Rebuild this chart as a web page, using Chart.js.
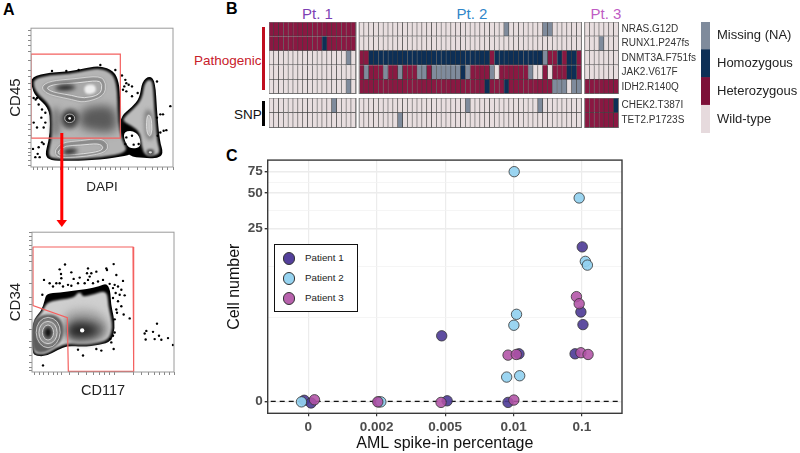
<!DOCTYPE html>
<html>
<head>
<meta charset="utf-8">
<script src="https://cdn.jsdelivr.net/npm/chart.js@4/dist/chart.umd.min.js"></script>
<style>
  html, body { margin: 0; padding: 0; background: #fff; }
  body { width: 800px; height: 453px; position: relative; overflow: hidden; font-family: "Liberation Sans", Arial, sans-serif; }
  .box { position: absolute; }
  .box canvas { display: block; }
  .txt { position: absolute; white-space: nowrap; line-height: 1; }
  .letter { font-weight: bold; font-size: 16px; color: #000; }
  .pt { font-size: 15px; transform: translateX(-50%); }
  .bar { position: absolute; }
  #legendC { position: absolute; left: 274px; top: 244px; width: 82px; height: 66px; border: 1px solid #111; background: #fff; box-sizing: content-box; }
  #legendC div { position: absolute; left: 30px; font-size: 9.8px; color: #222; line-height: 1; }
  #legendC i { position: absolute; left: 7.6px; width: 10.6px; height: 10.6px; border-radius: 50%; border: 0.8px solid #333; }
</style>
</head>
<body>
<div class="txt letter" style="left:3px;top:2px">A</div>
<div class="txt letter" style="left:226px;top:1px">B</div>
<div class="txt letter" style="left:226px;top:148px">C</div>

<div class="box" style="left:0;top:18px"><canvas id="flowTop" width="190" height="177"></canvas></div>
<div class="box" style="left:0;top:222px"><canvas id="flowLow" width="190" height="178"></canvas></div>
<svg class="box" style="left:50px;top:130px" width="24" height="100">
  <rect x="10.3" y="3" width="3" height="88" fill="#f00"></rect>
  <polygon points="6.5,90 17,90 11.8,97" fill="#f00"></polygon>
</svg>

<div class="txt pt" style="left:317.5px;top:6px;color:#7d3fb4">Pt. 1</div>
<div class="txt pt" style="left:472px;top:6px;color:#2f86c9">Pt. 2</div>
<div class="txt pt" style="left:606px;top:6px;color:#c05cc4">Pt. 3</div>
<div class="txt" style="left:194px;top:54px;font-size:13.5px;color:#c8202a">Pathogenic</div>
<div class="txt" style="left:234px;top:108px;font-size:13.5px;color:#111">SNP</div>
<div class="bar" style="left:262px;top:27px;width:3.4px;height:63px;background:#c00d1e"></div>
<div class="bar" style="left:262px;top:101px;width:3.4px;height:25px;background:#000"></div>

<div class="box" style="left:269px;top:22px"><canvas id="heatPath" width="440" height="72"></canvas></div>
<div class="box" style="left:269px;top:98px"><canvas id="heatSnp" width="440" height="30"></canvas></div>
<div class="box" style="left:701px;top:22px"><canvas id="heatKey" width="99" height="111"></canvas></div>

<div class="box" style="left:225px;top:150px"><canvas id="cells" width="405" height="303"></canvas></div>
<div id="legendC">
  <i style="top:7px;background:#54409c"></i><div style="top:8px">Patient 1</div>
  <i style="top:27px;background:#96d3f0"></i><div style="top:28px">Patient 2</div>
  <i style="top:47px;background:#b862ad"></i><div style="top:48px">Patient 3</div>
</div>

<script>
// Panel C values
const spikeLabels = ['0', '0.002', '0.005', '0.01', '0.1'];
const patient1 = [
  [-0.06, 0.02], [0.04, -0.03], [1.03, -0.01], [2.03, 0.01], [1.95, 2.44],
  [2.92, -0.02], [3.08, 1.45], [3.9, 1.45], [4.015, 3.25], [3.985, 4.39], [4.005, 17.4]
];
const patient2 = [
  [-0.1, -0.01], [1.06, -0.01], [3.01, 75], [3.044, 4.16], [3.005, 3.2],
  [3.09, 0.62], [2.9, 0.58], [3.96, 45.3], [4.05, 13], [4.08, 12.05]
];
const patient3 = [
  [0.09, 0.03], [1.015, -0.01], [1.94, -0.02], [3.005, 0.025], [2.92, 1.39],
  [3.04, 1.42], [3.92, 6.2], [3.96, 5.3], [3.985, 1.5], [4.09, 1.42]
];
const cellTicks = [0, 25, 50, 75];
const cellMinorTicks = [3.9, 11.7, 35.6, 61];

// Panel B values, W wild-type, H heterozygous, O homozygous, M missing
const pathogenicGenes = ['NRAS.G12D', 'RUNX1.P247fs', 'DNMT3A.F751fs', 'JAK2.V617F', 'IDH2.R140Q'];
const snpGenes = ['CHEK2.T387I', 'TET2.P1723S'];
const pt1Pathogenic = [
  'HHHHHHHHHH HHHHHHHH',
  'HHHHHHHHHH HOHHHHHH',
  'WWWWWWWWWW WWWWWWMW',
  'WWWWWWWWWW WWWWWWWW',
  'WWWWWWWWWW WWWWWWMW'
];
const pt2Pathogenic = [
  'WWWWWWWWWW WWWWWWWWWW WWWWWWWWWW MWWWWWWWMM WWWWWW',
  'WWWWWWWWWW WWWWWWWWWW WWWWWWWWWW WWWWWWWWWW WWWWWW',
  'HHOOOOOOOO OOOOOOOOOO OOOOOOOHOO OOOOOOOOMH HOHOOH',
  'HMHHHMHHMH HHMMHMMMMM MOMHHHHMWH HHHHHMWWHW HHHOOH',
  'HHHHHHHHHH HHHHHHHHHH HHHHHHOHHH OHHHHHHHHH MMMWMM'
];
const pt3Pathogenic = ['WWWWWWW', 'WWWMWWW', 'WWWWWWW', 'WWWWWWW', 'HHHHHHH'];
const pt1Snp = ['WWWWWWWWWW WWWMWWWW', 'WWWWWWWWWW WWWWWWWW'];
const pt2Snp = [
  'WWWWWWWWWW WWWWWWWWWW WWMWWWWWWW WWWWWWWMWW WWWWWW',
  'WWWWWWWWMW WWWWWWWWWW WWWWWWWWWW WWWWWWWWWW WWWWWW'
];
const pt3Snp = ['HHHHHHO', 'HHHHHHH'];
const keyLabels = ['Missing (NA)', 'Homozygous', 'Heterozygous', 'Wild-type'];

// Panel A values, in channel units
const topGate = [[92, 343], [360, 343], [360, 88], [92, 88], [92, 343]];
const lowGate = [[100, 380], [400, 380], [402, 2], [206, 2], [203, 165], [100, 202], [100, 380]];

const topOuter = [[93,275],[150,288],[205,290],[260,302],[300,308],[340,292],[356,260],[360,200],[360,140],[375,80],[395,42],[380,34],[300,22],[200,18],[150,20],[133,35],[145,80],[150,130],[145,180],[105,215],[93,245]];
const topInner = [[100,268],[150,280],[205,282],[260,294],[300,300],[335,285],[348,255],[352,200],[352,140],[365,80],[385,45],[300,28],[200,24],[155,26],[143,38],[153,80],[158,130],[152,185],[112,222],[100,245]];
const topCentre = [[240,180],[330,190],[350,160],[348,100],[250,115],[235,130]];
const topStrip = [[155,185],[180,180],[180,100],[155,80]];
const topNode = [[208,178],[232,170],[238,148],[228,122],[208,115],[188,122],[180,148],[188,170]];
const topNodeInner = [[208,162],[220,158],[224,148],[220,138],[208,134],[196,138],[192,148],[196,158]];
const topNodeSpot = [[204,152],[212,152],[212,144],[204,144]];
const topLobeA = [[122,245],[150,262],[220,268],[300,278],[318,255],[312,215],[250,195],[215,205],[165,215],[135,225]];
const topLobeB = [[138,242],[165,252],[230,255],[295,264],[306,250],[300,220],[250,208],[215,218],[170,225],[148,232]];
const topLobeCore = [[160,242],[195,252],[235,244],[205,232],[170,234]];
const topLobePatch = [[255,250],[285,252],[288,225],[260,220],[250,232]];
const topBaseA = [[162,50],[185,75],[240,80],[300,88],[325,70],[318,45],[260,32],[190,28],[168,32]];
const topBaseB = [[172,48],[195,65],[240,66],[295,72],[310,60],[300,48],[250,40],[195,36],[175,38]];
const topBaseCore = [[185,48],[210,58],[240,50],[210,38],[190,40]];
const topRightOuter = [[362,155],[395,182],[418,210],[425,260],[448,278],[465,260],[470,170],[478,80],[490,40],[470,25],[430,28],[385,32],[370,70],[358,115]];
const topHole = [[367,105],[395,112],[418,95],[422,60],[395,55],[378,65]];
const topRightInner = [[372,152],[398,175],[425,205],[432,255],[448,268],[458,255],[462,170],[470,80],[480,45],[465,34],[435,34],[424,60],[420,105],[395,125],[368,138]];
const topRightMid = [[432,170],[448,178],[460,150],[462,90],[448,78],[434,95],[432,135]];
const topRightCore = [[440,160],[452,155],[456,110],[448,90],[438,110]];
const topRightSpot = [[438,55],[462,55],[462,34],[438,34]];
const topRightSpotIn = [[445,48],[455,48],[455,41],[445,41]];

const lowOuter = [[97,155],[125,185],[135,218],[140,238],[180,242],[228,248],[260,252],[300,260],[320,270],[332,250],[334,205],[342,170],[346,135],[336,93],[300,82],[250,76],[205,80],[175,68],[140,48],[110,48],[97,58]];
const lowInner = [[100,155],[128,180],[140,212],[180,220],[225,226],[232,240],[245,242],[248,228],[280,235],[322,250],[326,200],[334,165],[338,135],[328,100],[300,90],[250,84],[205,88],[172,75],[140,54],[112,54],[100,62]];
const lowMid = [[190,178],[240,195],[300,185],[325,150],[320,102],[250,90],[200,95],[190,140]];
const lowDark = [[205,155],[250,165],[305,150],[320,125],[295,100],[240,95],[205,100]];
const lowCore = [[205,140],[250,148],[290,135],[295,120],[250,105],[205,110]];
const lowSpot = [[241,133],[254,133],[254,120],[241,120]];
const lowBlob = [[97,150],[125,175],[170,175],[192,145],[190,100],[165,75],[130,55],[97,65]];
const lowRingA = [[145,170],[175,155],[184,120],[172,85],[145,70],[118,85],[107,120],[117,155]];
const lowRingB = [[145,157],[167,145],[174,120],[167,95],[145,83],[123,95],[116,120],[123,145]];
const lowRingC = [[145,145],[158,137],[163,120],[158,103],[145,95],[132,103],[127,120],[132,137]];
const lowRingCore = [[145,138],[157,120],[145,102],[133,120]];

const topDots = [[155,292],[198,292],[235,295],[300,310],[345,295],[365,278],[375,265],[378,255],[385,250],[395,245],[372,245],[368,235],[378,230],[395,215],[412,225],[470,260],[480,160],[488,160],[510,185],[470,150],[490,110],[498,112],[480,105],[472,95],[110,210],[115,190],[125,175],[135,165],[123,150],[100,135],[110,120],[135,135],[130,120],[125,75],[115,60],[130,70],[112,40],[118,30],[105,30],[98,55],[100,210],[106,205],[378,90],[395,95],[375,70],[400,68],[415,70]];
const lowDots = [[196,327],[180,312],[184,298],[215,303],[222,283],[240,287],[265,315],[262,300],[270,290],[275,300],[290,305],[320,315],[322,310],[342,328],[350,295],[370,277],[133,280],[150,270],[160,260],[170,270],[185,285],[180,270],[190,260],[205,265],[215,262],[235,270],[255,270],[265,280],[280,270],[295,275],[310,280],[330,268],[345,265],[355,260],[365,250],[375,233],[360,235],[355,215],[365,200],[372,175],[390,163],[350,190],[345,160],[335,90],[342,70],[250,50],[235,68],[290,70],[305,65],[130,20],[90,55],[137,-7],[472,147],[440,125],[435,117],[460,122],[478,110],[505,103],[438,99],[465,100],[485,98],[520,82],[128,235],[340,255],[348,240],[340,225],[352,180],[345,120],[340,110],[332,100]];

const topTicksX = [100,112,125,140,155,180,205,225,245,265,285,300,315,330,345,360,385,410,435,455,470,485,500,518];
const topTicksY = [5,20,35,45,55,75,95,115,130,157,190,215,235,255,275,292,325,350,370,385,400,415];
const lowTicksX = [105,118,130,145,160,172,184,210,235,260,280,300,315,330,345,400,425,445,465,480,495,510,523];
const lowTicksY = [5,15,30,50,75,94,130,160,185,205,225,270,310,335,355,372,385,400,412,425];

Chart.defaults.font.family = '"Liberation Sans", Arial, sans-serif';
Chart.defaults.animation = false;
Chart.defaults.responsive = false;
Chart.defaults.plugins.legend.display = false;
Chart.defaults.plugins.tooltip.enabled = false;

const toXY = pts => pts.map(p => ({ x: p[0], y: p[1] }));

// fills closed contour datasets before the normal datasets get drawn
const contourPlugin = {
  id: 'contours',
  beforeDatasetsDraw(chart) {
    const ctx = chart.ctx;
    chart.data.datasets.forEach((ds, i) => {
      if (!ds.polyFill && !ds.polyLine) return;
      const pts = chart.getDatasetMeta(i).data;
      ctx.save();
      ctx.beginPath();
      ctx.rect(chart.chartArea.left, chart.chartArea.top, chart.chartArea.width, chart.chartArea.height);
      ctx.clip();
      ctx.beginPath();
      const n = pts.length;
      ctx.moveTo((pts[n - 1].x + pts[0].x) / 2, (pts[n - 1].y + pts[0].y) / 2);
      pts.forEach((p, k) => {
        const q = pts[(k + 1) % n];
        ctx.quadraticCurveTo(p.x, p.y, (p.x + q.x) / 2, (p.y + q.y) / 2);
      });
      ctx.closePath();
      if (ds.polyFill) {
        ctx.filter = ds.blur ? `blur(${ds.blur}px)` : 'none';
        ctx.fillStyle = ds.polyFill;
        ctx.fill();
        ctx.filter = 'none';
      }
      if (ds.polyLine) {
        ctx.strokeStyle = ds.polyLine;
        ctx.lineWidth = 0.8;
        ctx.stroke();
      }
      ctx.restore();
    });
  }
};

const framePlugin = {
  id: 'frame',
  afterDraw(chart, args, opts) {
    const a = chart.chartArea, ctx = chart.ctx;
    ctx.save();
    ctx.strokeStyle = opts.color;
    ctx.lineWidth = opts.width;
    ctx.strokeRect(a.left, a.top, a.width, a.height);
    ctx.restore();
  }
};

function layer(pts, fill, blur, line) {
  return { data: toXY(pts), polyFill: fill, blur: blur, polyLine: line, pointRadius: 0, showLine: false };
}

function flowChart(id, cfg) {
  new Chart(document.getElementById(id), {
    type: 'scatter',
    plugins: [contourPlugin, framePlugin],
    data: {
      datasets: [
        { data: toXY(cfg.gate), showLine: true, borderColor: '#f4605f', borderWidth: 1.2, pointRadius: 0, tension: 0 },
        { data: toXY(cfg.dots), pointRadius: 1.2, backgroundColor: '#000', borderWidth: 0 },
        ...cfg.layers
      ]
    },
    options: {
      layout: { padding: cfg.padding },
      plugins: { frame: { color: '#9a9a9a', width: 1 } },
      scales: {
        x: {
          min: cfg.xMin, max: cfg.xMax,
          afterBuildTicks: s => { s.ticks = cfg.ticksX.map(v => ({ value: v })); },
          afterFit: s => { s.height = cfg.bottom; },
          ticks: { autoSkip: false, maxRotation: 0, callback: () => '' },
          grid: { drawOnChartArea: false, tickLength: 3, color: '#555', lineWidth: 0.7 },
          border: { display: false },
          title: { display: true, text: cfg.xTitle, font: { size: cfg.xSize }, color: '#222', padding: { top: 5, bottom: 0 } }
        },
        y: {
          min: 0, max: cfg.yMax,
          afterBuildTicks: s => { s.ticks = cfg.ticksY.map(v => ({ value: v })); },
          afterFit: s => { s.width = cfg.left; },
          ticks: { autoSkip: false, callback: () => '' },
          grid: { drawOnChartArea: false, tickLength: 3, color: '#555', lineWidth: 0.7 },
          border: { display: false },
          title: { display: true, text: cfg.yTitle, font: { size: 15 }, color: '#222', padding: { top: 7, bottom: 0 } }
        }
      }
    }
  });
}

flowChart('flowTop', {
  gate: topGate, dots: topDots, xMin: 92, xMax: 518, yMax: 422,
  ticksX: topTicksX, ticksY: topTicksY, xTitle: 'DAPI', yTitle: 'CD45', xSize: 13.5,
  left: 31, bottom: 28, padding: { top: 8, right: 17 },
  layers: [
    layer(topOuter, '#000'),
    layer(topRightOuter, '#000'),
    layer(topHole, '#fff'),
    layer(topRightInner, '#bcbcbc', 1),
    layer(topRightMid, '#7f7f7f', 2),
    layer(topRightCore, '#c8c8c8', 1, '#eee'),
    layer(topRightSpot, '#555', 1),
    layer(topRightSpotIn, '#ddd', 0.5),
    layer(topInner, '#b4b4b4', 1),
    layer(topCentre, '#5a5a5a', 5),
    layer(topStrip, '#777', 3),
    layer(topNode, '#4a4a4a', 2),
    layer(topNodeInner, '#1d1d1d', 1, '#ccc'),
    layer(topNodeSpot, '#fff', 0.5),
    layer(topLobeA, '#8f8f8f', 1, '#ddd'),
    layer(topLobeB, '#a8a8a8', 1, '#eee'),
    layer(topLobeCore, '#222', 2),
    layer(topLobePatch, '#efefef', 1),
    layer(topBaseA, '#8a8a8a', 1, '#ddd'),
    layer(topBaseB, '#b0b0b0', 1, '#eee'),
    layer(topBaseCore, '#1d1d1d', 2)
  ]
});

flowChart('flowLow', {
  gate: lowGate, dots: lowDots, xMin: 97, xMax: 523, yMax: 425,
  ticksX: lowTicksX, ticksY: lowTicksY, xTitle: 'CD117', yTitle: 'CD34', xSize: 14.5,
  left: 32, bottom: 28, padding: { top: 8, right: 16 },
  layers: [
    layer(lowOuter, '#000'),
    layer(lowInner, '#cfcfcf', 1),
    layer(lowMid, '#a6a6a6', 4),
    layer(lowDark, '#686868', 4),
    layer(lowCore, '#222', 4),
    layer(lowSpot, '#fff', 0.5),
    layer(lowBlob, '#5e5e5e', 1),
    layer(lowRingA, '#7a7a7a', 1, '#ddd'),
    layer(lowRingB, '#979797', 1, '#e6e6e6'),
    layer(lowRingC, '#666', 1, '#e6e6e6'),
    layer(lowRingCore, '#111', 1.5)
  ]
});

// panel B, one stacked dataset per column, the gaps between patients are see-through columns
const cellColours = { W: '#e8dedf', H: '#8a1842', O: '#0d2f56', M: '#7f8b9c' };
const patientGap = 0.67;
const blockEdges = [[0, 18], [18.67, 64.67], [65.34, 72.34]];

function clean(rows) { return rows.map(r => r.replace(/ /g, '')); }

function heatColumns(blocks) {
  const out = [];
  blocks.forEach((rows, b) => {
    const cleaned = clean(rows);
    for (let c = 0; c < cleaned[0].length; c++) {
      out.push({
        data: cleaned.map(() => 1),
        backgroundColor: cleaned.map(r => cellColours[r[c]]),
        borderColor: 'rgba(35,35,35,0.85)',
        borderWidth: { right: 0.8, bottom: 1 },
        borderSkipped: false,
        stack: 'cols'
      });
    }
    if (b < blocks.length - 1) {
      out.push({ data: cleaned.map(() => patientGap), backgroundColor: '#fff', borderWidth: 0, stack: 'cols' });
    }
  });
  return out;
}

const blockFramePlugin = {
  id: 'blockFrame',
  afterDatasetsDraw(chart) {
    const ctx = chart.ctx, a = chart.chartArea, x = chart.scales.x;
    ctx.save();
    ctx.strokeStyle = '#7a7a7a';
    ctx.lineWidth = 1;
    blockEdges.forEach(e => {
      ctx.strokeRect(x.getPixelForValue(e[0]), a.top, x.getPixelForValue(e[1]) - x.getPixelForValue(e[0]), a.height);
    });
    ctx.restore();
  }
};

// the right hand labels should not push the bars away from the canvas edge
function rightAxisFit(width) {
  return s => { s.width = width; s.paddingTop = 0; s.paddingBottom = 0; };
}

function heatChart(id, genes, blocks) {
  new Chart(document.getElementById(id), {
    type: 'bar',
    plugins: [blockFramePlugin],
    data: { labels: genes, datasets: heatColumns(blocks) },
    options: {
      indexAxis: 'y',
      datasets: { bar: { categoryPercentage: 1, barPercentage: 1 } },
      layout: { padding: 0 },
      scales: {
        x: { stacked: true, min: 0, max: 72.34, display: false },
        y: {
          stacked: true, position: 'right',
          afterFit: rightAxisFit(90.5),
          grid: { display: false, drawTicks: false }, border: { display: false },
          ticks: { font: { size: 10 }, color: '#333', padding: 3, autoSkip: false }
        }
      }
    }
  });
}

heatChart('heatPath', pathogenicGenes, [pt1Pathogenic, pt2Pathogenic, pt3Pathogenic]);
heatChart('heatSnp', snpGenes, [pt1Snp, pt2Snp, pt3Snp]);

new Chart(document.getElementById('heatKey'), {
  type: 'bar',
  data: {
    labels: keyLabels,
    datasets: [{ data: [1, 1, 1, 1], backgroundColor: ['#7f8b9c', '#0d2f56', '#7d1038', '#e6dadd'], categoryPercentage: 1, barPercentage: 1 }]
  },
  options: {
    indexAxis: 'y',
    layout: { padding: 0 },
    scales: {
      x: { min: 0, max: 1, display: false },
      y: {
        position: 'right',
        afterFit: rightAxisFit(90),
        grid: { display: false, drawTicks: false }, border: { display: false },
        ticks: { font: { size: 13 }, color: '#222', padding: 7, autoSkip: false }
      }
    }
  }
});

// panel C, the axis is pseudo-log so values go through log1p
const scaled = rows => rows.map(p => ({ x: p[0], y: Math.log1p(p[1]) }));
const dotStyle = { pointRadius: 5.2, borderColor: '#333', borderWidth: 0.8 };

new Chart(document.getElementById('cells'), {
  type: 'scatter',
  plugins: [framePlugin],
  data: {
    datasets: [
      { label: 'Patient 3', data: scaled(patient3), backgroundColor: 'rgba(178,82,166,0.88)', order: 0, ...dotStyle },
      { label: 'Patient 2', data: scaled(patient2), backgroundColor: 'rgba(146,209,240,0.92)', order: 1, ...dotStyle },
      { label: 'Patient 1', data: scaled(patient1), backgroundColor: 'rgba(76,58,150,0.9)', order: 2, ...dotStyle },
      { label: 'zero', data: [{ x: -0.55, y: 0 }, { x: 4.55, y: 0 }], showLine: true, borderColor: '#111', borderWidth: 1.1, borderDash: [5, 4], pointRadius: 0, order: 3 }
    ]
  },
  options: {
    layout: { padding: { top: 9.3, right: 8 } },
    plugins: { frame: { color: '#3a3a3a', width: 1.4 } },
    scales: {
      x: {
        min: -0.594, max: 4.586,
        afterBuildTicks: s => { s.ticks = spikeLabels.map((l, i) => ({ value: i })); },
        afterFit: s => { s.height = 39.7; },
        ticks: { autoSkip: false, maxRotation: 0, color: '#4d4d4d', font: { size: 13.5, weight: 'bold' }, padding: 3, callback: v => spikeLabels[v] },
        grid: { color: '#ececec', lineWidth: 1.2, tickLength: 3, tickColor: '#333' },
        border: { display: false },
        title: { display: true, text: 'AML spike-in percentage', font: { size: 16 }, color: '#111', padding: { top: 1, bottom: 0 } }
      },
      y: {
        min: -0.2256, max: 4.549,
        afterBuildTicks: s => {
          s.ticks = cellTicks.concat(cellMinorTicks).map(v => ({ value: Math.log1p(v), major: cellTicks.includes(v), shown: v }));
        },
        afterFit: s => { s.width = 42.7; },
        ticks: {
          autoSkip: false, color: '#4d4d4d', font: { size: 13.5, weight: 'bold' }, padding: 2,
          callback: (v, i, all) => all[i].major ? String(all[i].shown) : ''
        },
        grid: {
          tickLength: 3,
          color: c => c.tick && c.tick.major ? '#ececec' : '#f3f3f3',
          lineWidth: c => c.tick && c.tick.major ? 1.4 : 0.8,
          tickColor: c => c.tick && c.tick.major ? '#333' : 'transparent'
        },
        border: { display: false },
        title: { display: true, text: 'Cell number', font: { size: 16 }, color: '#111', padding: { top: 0, bottom: 0 } }
      }
    }
  }
});
</script>
</body>
</html>
